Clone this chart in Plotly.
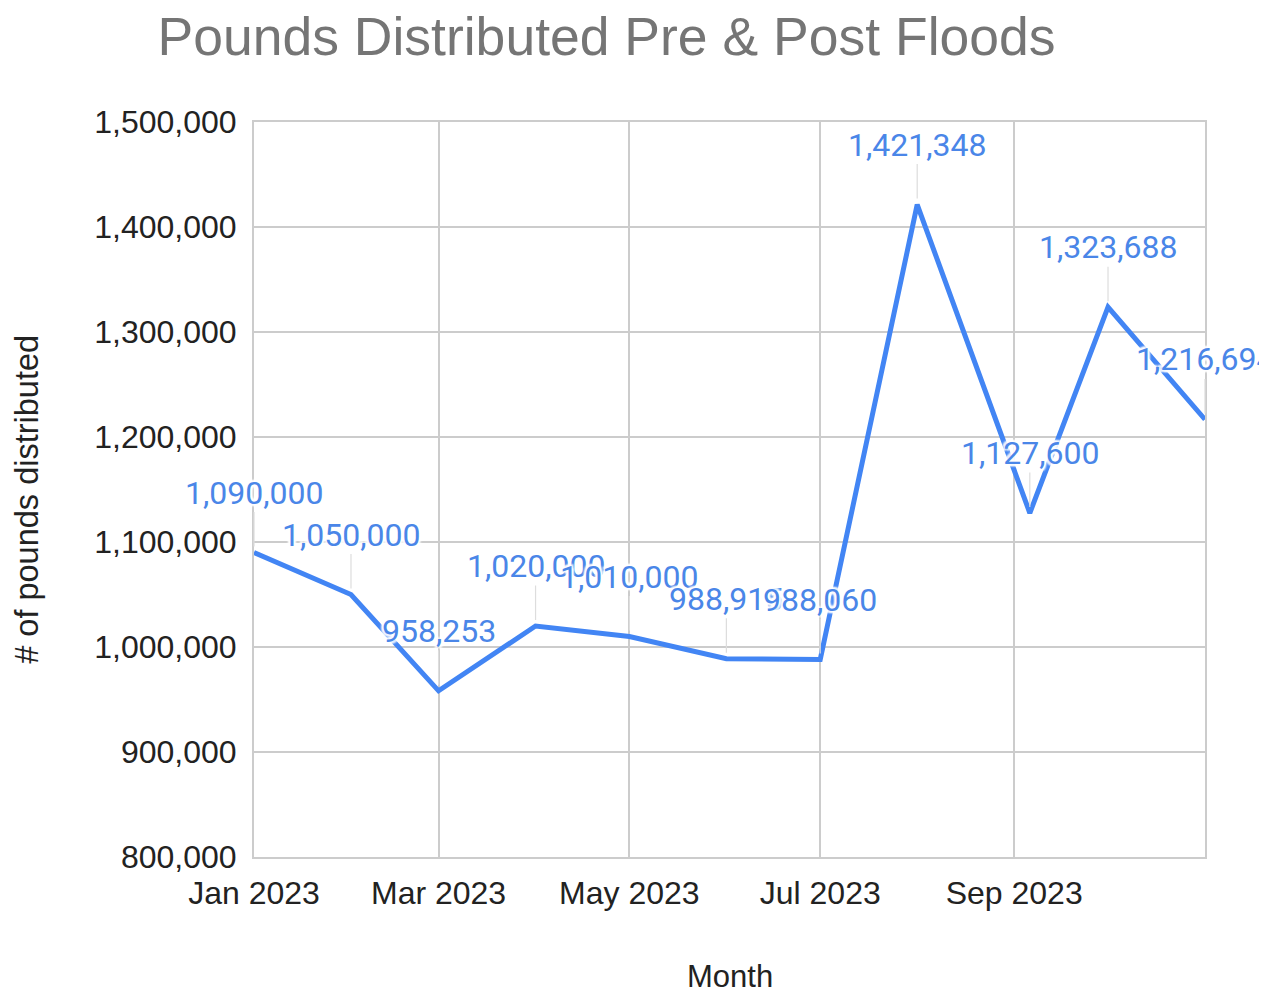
import plotly.graph_objects as go

months = ["2023-01-01", "2023-02-01", "2023-03-01", "2023-04-01", "2023-05-01",
          "2023-06-01", "2023-07-01", "2023-08-01", "2023-09-06", "2023-10-01",
          "2023-11-01"]
pounds = [1090000, 1050000, 958253, 1020000, 1010000, 988915, 988060,
          1421348, 1127600, 1323688, 1216694]
tick_dates = ["2023-01-01", "2023-03-01", "2023-05-01", "2023-07-01", "2023-09-01"]
tick_text = ["Jan 2023", "Mar 2023", "May 2023", "Jul 2023", "Sep 2023"]

LINE = "#4285F4"
LABEL = "#4a86e8"
GRID = "#cccccc"
SANS = "Liberation Sans, Arial, sans-serif"

# page body has an 8px default margin; size the figure to fill the rest
W, H = 1259, 985

fig = go.Figure()
fig.add_trace(go.Scatter(
    x=months, y=pounds, mode="lines",
    line=dict(color=LINE, width=5),
    hoverinfo="x+y", showlegend=False,
))

halo = "-2px -2px 2px white, 2px -2px 2px white, -2px 2px 2px white, 2px 2px 2px white, 0 0 3px white"
for d, v in zip(months, pounds):
    fig.add_annotation(
        x=d, y=v, xref="x", yref="y",
        text=f"{v:,}", showarrow=True, ax=0, ay=-60,
        arrowhead=0, arrowwidth=1.2, arrowcolor="#dddddd", standoff=6,
        font=dict(family="Roboto, sans-serif", size=32, color=LABEL, shadow=halo),
        borderpad=0,
    )

# axis titles
fig.add_annotation(
    text="Month", xref="paper", yref="paper", x=0.5, y=-0.163,
    xanchor="center", yanchor="middle", showarrow=False,
    font=dict(family=SANS, size=31, color="#222222"),
)
fig.add_annotation(
    text="# of pounds distributed", xref="paper", yref="paper", x=-0.239, y=0.487,
    xanchor="center", yanchor="middle", showarrow=False, textangle=-90,
    font=dict(family=SANS, size=32.5, color="#222222"),
)

fig.update_layout(
    width=W, height=H,
    margin=dict(l=246, r=62, t=114, b=136),
    paper_bgcolor="white", plot_bgcolor="white",
    title=dict(
        text="Pounds Distributed Pre & Post Floods",
        font=dict(family=SANS, size=53.5, color="#757575"),
        x=598.5 / W, xanchor="center", xref="container",
        y=1 - 28 / H, yanchor="middle", yref="container",
    ),
    xaxis=dict(
        range=["2023-01-01", "2023-11-01"],
        tickmode="array", tickvals=tick_dates, ticktext=tick_text,
        showgrid=True, gridcolor=GRID, gridwidth=2,
        showline=True, linecolor=GRID, linewidth=2, mirror=True,
        ticks="outside", ticklen=7, tickcolor="rgba(0,0,0,0)",
        tickfont=dict(family=SANS, size=32, color="#222222"),
        automargin=False, zeroline=False,
    ),
    yaxis=dict(
        range=[800000, 1500000], dtick=100000, tickformat=",",
        showgrid=True, gridcolor=GRID, gridwidth=2,
        showline=True, linecolor=GRID, linewidth=2, mirror=True,
        ticks="outside", ticklen=9, tickcolor="rgba(0,0,0,0)",
        tickfont=dict(family=SANS, size=32, color="#222222"),
        automargin=False, zeroline=False,
    ),
)

fig.write_html("out.html")
